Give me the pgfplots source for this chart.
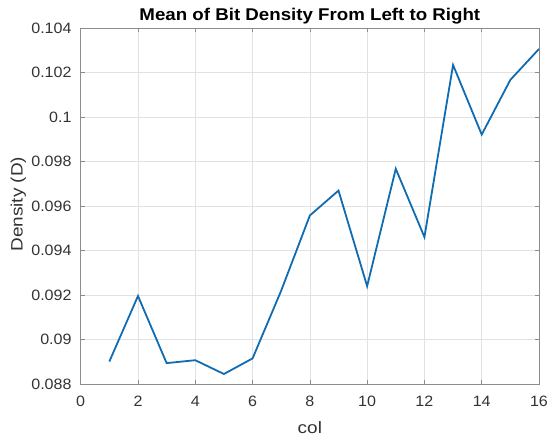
\documentclass[border=0pt]{standalone}
\usepackage{pgfplots}
\pgfplotsset{compat=1.18}
\usepackage{fontspec}
\setmainfont{Liberation Sans}[FakeStretch=1.07]
\newfontfamily\titlefont{Liberation Sans}[FakeStretch=1.1]
\newfontfamily\labelfont{Liberation Sans}[FakeStretch=1.15]
\definecolor{mblue}{RGB}{16,108,178}
\definecolor{tickc}{RGB}{51,51,51}
\definecolor{axc}{RGB}{140,140,140}
\definecolor{gridc}{RGB}{226,226,226}
\begin{document}
\begin{tikzpicture}[x=1pt,y=1pt]
\useasboundingbox (-80.7,-55) rectangle (468.3,384);
\begin{axis}[
  at={(0,0)}, anchor=south west,
  scale only axis, width=458.3pt, height=355.7pt,
  xmin=0, xmax=16, ymin=0.088, ymax=0.104,
  xtick={0,2,4,6,8,10,12,14,16},
  xticklabels={0,2,4,6,8,10,12,14,16},
  ytick={0.088,0.090,0.092,0.094,0.096,0.098,0.100,0.102,0.104},
  yticklabels={0.088,0.09,0.092,0.094,0.096,0.098,0.1,0.102,0.104},
  grid=major,
  major grid style={color=gridc, line width=0.6pt},
  axis line style={color=axc, line width=0.8pt},
  tick align=inside, major tick length=4pt,
  major tick style={color=axc, line width=0.6pt},
  tick label style={font=\fontsize{15}{18}\selectfont, text=tickc},
  xticklabel style={anchor=north, inner sep=0pt, yshift=-12.2pt},
  yticklabel style={anchor=east, inner sep=0pt, xshift=-9pt},
  title={Mean of Bit Density From Left to Right},
  every axis title/.style={at={(axis description cs:0.5,1)}, anchor=base, yshift=7.4pt, font=\titlefont\bfseries\fontsize{17}{18}\selectfont, text=black},
  xlabel={col},
  every axis x label/.style={at={(axis description cs:0.5,0)}, anchor=base, yshift=-49pt, font=\labelfont\fontsize{16.5}{18}\selectfont, text=tickc},
  ylabel={Density (D)},
  every axis y label/.style={at={(axis description cs:-0.1266,0.5056)}, rotate=90, anchor=base, font=\labelfont\fontsize{16.5}{18}\selectfont, text=tickc},
]
\addplot[color=mblue, line width=1.8pt, mark=none] coordinates {
(1,0.08901) (2,0.09196) (3,0.08894) (4,0.08907) (5,0.08845) (6,0.08915)
(7,0.0922) (8,0.09558) (9,0.0967) (10,0.0924) (11,0.09768) (12,0.09461)
(13,0.10235) (14,0.09922) (15,0.10168) (16,0.10307)
};
\end{axis}
\end{tikzpicture}
\end{document}
